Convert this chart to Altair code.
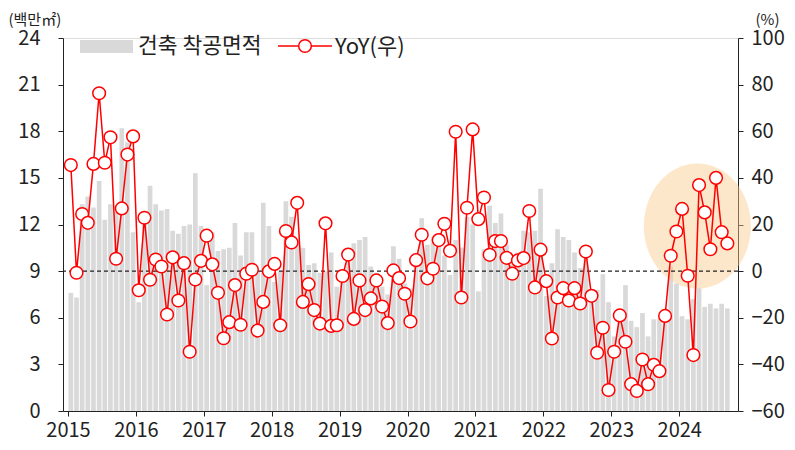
import altair as alt
import pandas as pd

# Monthly construction starts area (million m2), Jan 2015 - Sep 2024
years = [2015, 2016, 2017, 2018, 2019, 2020, 2021, 2022, 2023, 2024]
area = [
    7.6, 7.3, 13.3, 13.8, 13.1, 14.8, 12.3, 13.3, 12.8, 18.2, 17.3, 11.5,
    7.0, 12.7, 14.5, 13.3, 12.9, 13.0, 11.6, 11.4, 11.9, 12.0, 15.3, 11.9,
    8.1, 11.5, 10.3, 10.4, 10.5, 12.1, 10.0, 11.5, 11.5, 9.0, 13.4, 11.9,
    8.3, 9.0, 13.5, 12.5, 11.0, 10.5, 9.4, 9.5, 8.9, 9.0, 10.2, 8.0,
    8.5, 10.5, 10.8, 11.0, 11.2, 9.3, 8.9, 8.0, 7.5, 10.6, 9.8, 8.2,
    7.9, 9.5, 12.4, 10.7, 11.2, 11.0, 10.0, 8.75, 11.0, 10.5, 12.5, 12.0,
    7.7, 10.4, 13.2, 12.1, 12.7, 10.7, 9.9, 10.2, 11.6, 11.5, 11.6, 14.3,
    7.4, 9.5, 11.7, 11.2, 11.0, 10.2, 9.2, 10.25, 7.5, 7.8, 8.8, 7.0,
    4.8, 6.2, 8.1, 5.8, 5.4, 6.3, 4.8, 5.9, 5.9, 6.1, 9.3, 8.2,
    6.1, 5.9, 7.2, 7.9, 6.7, 6.9, 6.6, 6.9, 6.6,
]
yoy = [
    45.5, -0.7, 24.5, 20.7, 46.0, 76.3, 46.5, 57.4, 5.3, 26.9, 50.0, 57.8,
    -8.2, 22.9, -3.7, 5.0, 2.0, -18.6, 5.9, -12.6, 3.4, -34.6, -3.6, 4.4,
    15.2, 2.9, -9.3, -28.8, -21.9, -6.0, -23.0, -1.1, 0.6, -25.5, -13.2, -0.1,
    3.1, -23.2, 17.2, 12.3, 29.3, -13.2, -5.6, -16.7, -22.5, 20.5, -23.5, -23.2,
    -2.1, 7.1, -20.5, -4.0, -16.7, -11.7, -4.0, -15.2, -22.3, 0.3, -3.0, -9.7,
    -21.6, 4.7, 15.6, -3.1, 1.0, 13.3, 20.3, 8.7, 59.8, -11.3, 27.2, 60.8,
    22.3, 31.6, 7.0, 12.9, 12.9, 5.7, -1.1, 4.6, 5.6, 25.8, -7.0, 9.2,
    -4.3, -28.9, -11.3, -7.3, -12.6, -7.3, -13.9, 8.4, -10.6, -35.0, -24.3, -51.0,
    -34.6, -19.0, -30.3, -48.5, -51.4, -37.9, -48.5, -40.2, -42.9, -19.2, 6.6, 17.0,
    26.7, -2.0, -36.0, 36.9, 25.2, 9.4, 40.0, 16.7, 11.9,
]
left_ticks = [0, 3, 6, 9, 12, 15, 18, 21, 24]
right_ticks = [-60, -40, -20, 0, 20, 40, 60, 80, 100]
baseline_area = [9]
highlight = {"month": [111.2], "value": [11.9]}  # centre of highlighted period
legend_labels = ["건축 착공면적", "YoY(우)"]

FONT = "Noto Sans CJK KR"
W, H = 675, 373
N = len(area)

df = pd.DataFrame({"m": [i + 0.5 for i in range(N)], "area": area, "yoy": yoy})
xscale = alt.Scale(domain=[0, 117.5], nice=False, zero=False)
xaxis = alt.Axis(values=[12 * k for k in range(len(years))],
                 labelExpr="2015 + datum.value / 12", title=None, grid=False,
                 tickSize=5, labelFontSize=20, labelPadding=4, domainColor="#222",
                 tickColor="#222", labelColor="#222", labelFont=FONT)
lscale = alt.Scale(domain=[0, 24], nice=False)
rscale = alt.Scale(domain=[-60, 100], nice=False)

bars = alt.Chart(df).mark_bar(size=4.7, color="#d9d9d9").encode(
    x=alt.X("m:Q", scale=xscale, axis=xaxis),
    y=alt.Y("area:Q", scale=lscale,
            axis=alt.Axis(values=left_ticks, title="(백만㎡)", titleAngle=0,
                          titleAlign="left", titleBaseline="middle", titleX=-55,
                          titleY=-19, titleFontSize=15, titleFontWeight="normal",
                          titleFont=FONT, titleColor="#222", grid=False, tickSize=5,
                          labelFontSize=20, labelPadding=18, domainColor="#222",
                          tickColor="#222", labelColor="#222", labelFont=FONT)),
)

hl = alt.Chart(pd.DataFrame(highlight)).mark_point(
    shape="M -0.856 0 A 0.856 1 0 1 0 0.856 0 A 0.856 1 0 1 0 -0.856 0 Z",
    filled=True, fill="#f9c98a", opacity=0.45, strokeWidth=0, size=125 * 125,
).encode(x=alt.X("month:Q", scale=xscale), y=alt.Y("value:Q", scale=lscale))

rule = alt.Chart(pd.DataFrame({"v": baseline_area})).mark_rule(
    color="#222", strokeDash=[4, 3], strokeWidth=1.2
).encode(y=alt.Y("v:Q", scale=lscale))

left = alt.layer(bars, hl, rule)

line = alt.Chart(df).mark_line(color="#ff0000", strokeWidth=1.5).encode(
    x=alt.X("m:Q", scale=xscale),
    y=alt.Y("yoy:Q", scale=rscale,
            axis=alt.Axis(values=right_ticks, orient="right", title="(%)",
                          titleAngle=0, titleAlign="left", titleBaseline="middle",
                          titleX=17, titleY=-19, titleFontSize=15,
                          titleFontWeight="normal", titleFont=FONT, titleColor="#222",
                          grid=False, tickSize=5, labelFontSize=20, labelPadding=8,
                          domainColor="#222", tickColor="#222", labelColor="#222",
                          labelFont=FONT)),
)
pts = alt.Chart(df).mark_point(shape="circle", filled=True, fill="white",
                               stroke="#ff0000", strokeWidth=1.5, size=160,
                               opacity=1).encode(
    x=alt.X("m:Q", scale=xscale), y=alt.Y("yoy:Q", scale=rscale))

one = pd.DataFrame({"a": [0]})
leg_rect = alt.Chart(one).mark_rect(color="#d9d9d9").encode(
    x=alt.value(17), x2=alt.value(70), y=alt.value(2), y2=alt.value(15))
leg_t1 = alt.Chart(one).mark_text(text=legend_labels[0], align="left", baseline="middle",
                                  font=FONT, fontSize=21.5, color="#222").encode(
    x=alt.value(75), y=alt.value(9))
leg_line = alt.Chart(one).mark_rule(color="#ff0000", strokeWidth=1.5).encode(
    x=alt.value(215), x2=alt.value(269), y=alt.value(8))
leg_pt = alt.Chart(one).mark_point(shape="circle", filled=True, fill="white",
                                   stroke="#ff0000", strokeWidth=1.5, size=160,
                                   opacity=1).encode(x=alt.value(242), y=alt.value(8))
leg_t2 = alt.Chart(one).mark_text(text=legend_labels[1], align="left", baseline="middle",
                                  font=FONT, fontSize=22, color="#222").encode(
    x=alt.value(272), y=alt.value(9))

right = alt.layer(line, pts, leg_rect, leg_t1, leg_line, leg_pt, leg_t2)

chart = alt.layer(left, right).resolve_scale(y="independent").properties(
    width=W, height=H,
    autosize=alt.AutoSizeParams(type="none"),
    padding={"left": 55, "top": 30, "right": 49, "bottom": 31},
).configure_view(stroke=None).configure(background="white")

chart.save("out.html", embed_options={"renderer": "svg", "actions": False})
